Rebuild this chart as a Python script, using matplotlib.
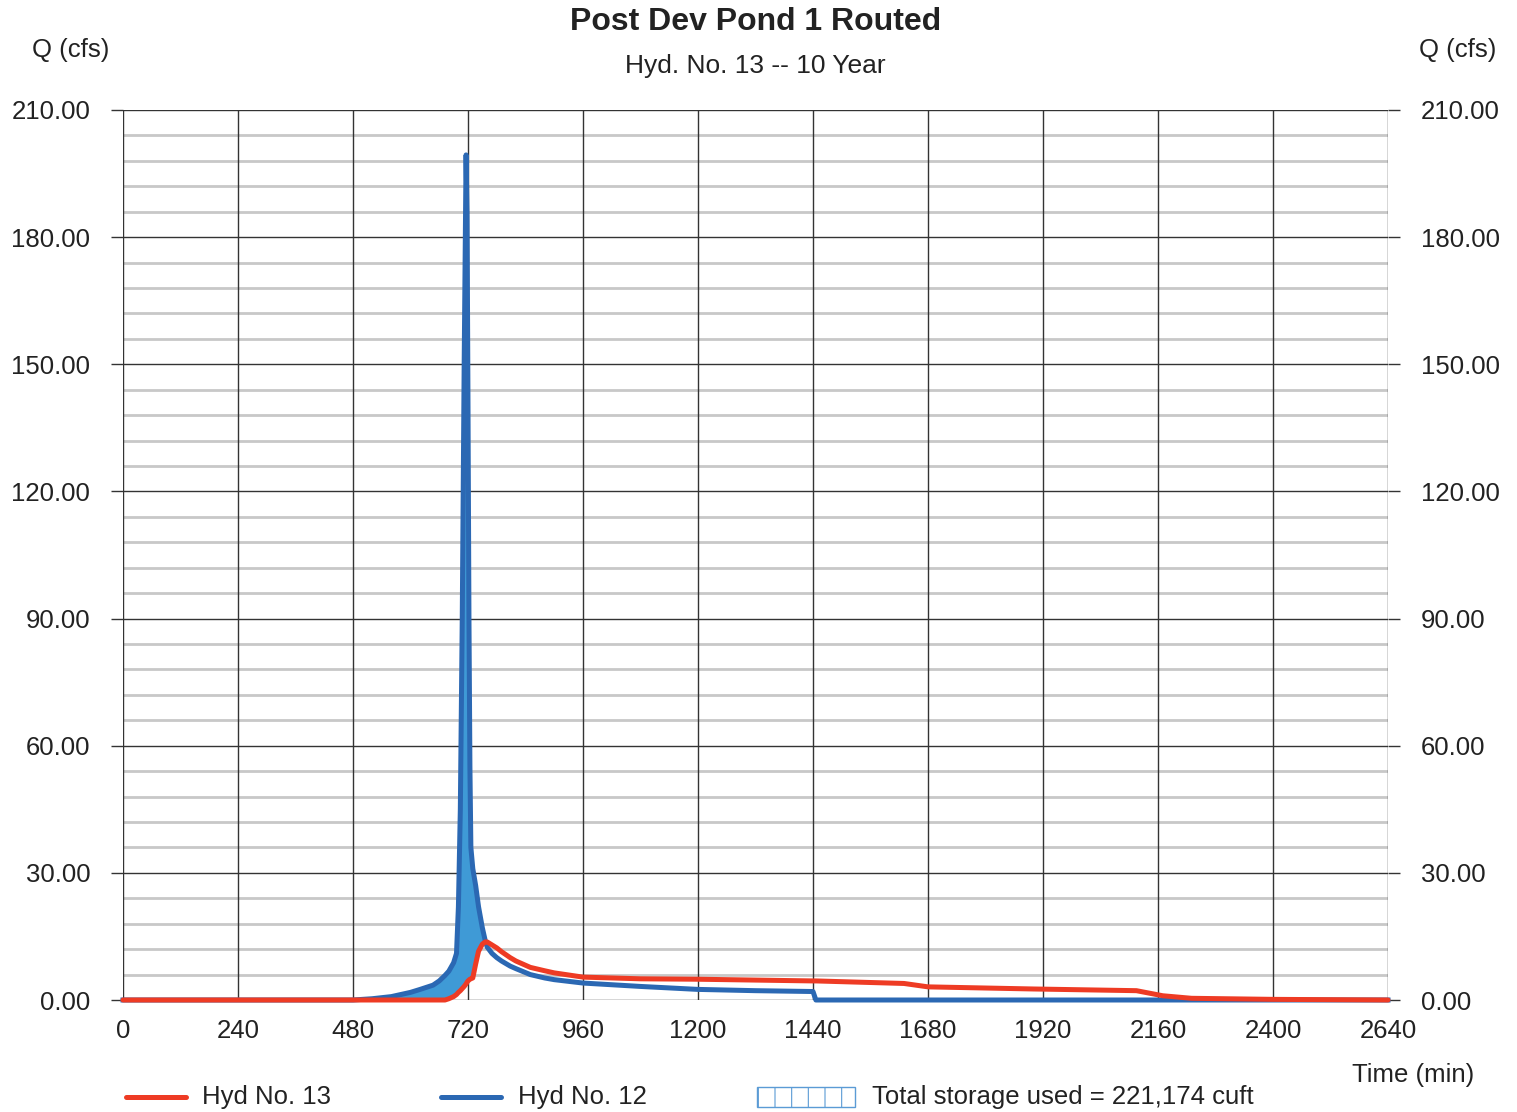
import matplotlib
matplotlib.use("Agg")
import matplotlib.pyplot as plt
from matplotlib.lines import Line2D
from matplotlib.patches import Rectangle
import numpy as np

plt.rcParams['font.family'] = ['Liberation Sans', 'DejaVu Sans']

# ---- data ----
time_min = [0, 480, 520, 560, 600, 620, 647, 660, 672, 680, 690, 696, 700, 704, 708,
            712, 716, 718, 720, 722, 724, 726, 730, 736, 742, 750, 756, 760, 770, 780,
            790, 808, 820, 850, 880, 900, 960, 1080, 1200, 1320, 1440, 1446, 1630, 1680,
            1900, 2115, 2170, 2230, 2400, 2640]
hyd12 = [0, 0, 0.3, 0.8, 1.8, 2.5, 3.5, 4.5, 5.8, 6.8, 8.8, 11, 22, 45, 90,
         150, 199.4, 185, 140, 90, 55, 36, 31, 27, 22, 17, 14, 12.5, 11, 10,
         9.2, 8.0, 7.4, 6.0, 5.2, 4.8, 4.0, 3.2, 2.5, 2.2, 2.0, 0, 0, 0,
         0, 0, 0, 0, 0, 0]
hyd13 = [0, 0, 0, 0, 0, 0, 0, 0, 0, 0.3, 0.8, 1.3, 1.8, 2.2, 2.7,
         3.2, 3.8, 4.2, 4.5, 4.7, 4.9, 5.0, 5.2, 8.5, 11.5, 13.2, 13.7, 13.7, 13.0, 12.3,
         11.4, 10.0, 9.2, 7.7, 6.9, 6.4, 5.4, 5.0, 4.9, 4.7, 4.5, 4.5, 3.9, 3.1,
         2.6, 2.2, 1.0, 0.4, 0.15, 0]
x_ticks = [0, 240, 480, 720, 960, 1200, 1440, 1680, 1920, 2160, 2400, 2640]
y_ticks = [0, 30, 60, 90, 120, 150, 180, 210]
y_minor = [v for v in range(0, 211, 6) if v % 30 != 0]
title = "Post Dev Pond 1 Routed"
subtitle = "Hyd. No. 13 -- 10 Year"
storage_label = "Total storage used = 221,174 cuft"

RED = '#ee3b24'
BLUE = '#2b68b3'
FILL = '#3f9ad6'
TXT = '#222222'

W, H = 1517, 1112
fig = plt.figure(figsize=(W / 100, H / 100), dpi=100)
ax = fig.add_axes([123 / W, 1 - 1000 / H, (1388 - 123) / W, (1000 - 110) / H])

t = np.array(time_min, dtype=float)
b = np.array(hyd12, dtype=float)
r = np.array(hyd13, dtype=float)

ax.set_xlim(0, 2640)
ax.set_ylim(0, 210)

# grid
for v in y_minor:
    ax.axhline(v, color='#c8c8c8', lw=2.0, zorder=0.5)
for v in y_ticks:
    ax.axhline(v, color='#333333', lw=1.0, zorder=0.6)
for v in x_ticks:
    ax.axvline(v, color='#333333', lw=1.0, zorder=0.6)

ax.fill_between(t, r, b, where=b > r, interpolate=True, color=FILL, lw=0, zorder=2)
ax.plot(t, b, color=BLUE, lw=3.6, zorder=3, solid_joinstyle='round', clip_on=False)
ax.plot(t, r, color=RED, lw=3.6, zorder=4, solid_joinstyle='round',
        solid_capstyle='round', clip_on=False)

for s in ax.spines.values():
    s.set_visible(False)

ax.set_xticks(x_ticks)
ax.set_xticklabels([str(v) for v in x_ticks])
ax.set_yticks(y_ticks)
ax.set_yticklabels([f"{v:.2f}" for v in y_ticks])
ax.tick_params(axis='x', length=0, pad=14, labelsize=18.5, colors=TXT)
ax.tick_params(axis='y', left=True, right=True, labelleft=True, labelright=True,
               length=8.6, width=1.0, color='#333333', pad=15, labelsize=18.5,
               labelcolor=TXT, direction='out')

fig.text(756 / W, 1 - 22 / H, title, ha='center', va='center', fontsize=23,
         fontweight='bold', color=TXT)
fig.text(755 / W, 1 - 66 / H, subtitle, ha='center', va='center', fontsize=19,
         color=TXT)
fig.text(71 / W, 1 - 50 / H, "Q (cfs)", ha='center', va='center', fontsize=18.5, color=TXT)
fig.text(1458 / W, 1 - 50 / H, "Q (cfs)", ha='center', va='center', fontsize=18.5, color=TXT)
fig.text(1413 / W, 1 - 1075 / H, "Time (min)", ha='center', va='center', fontsize=18.5,
         color=TXT)

# legend (manual)
ly = 1 - 1097 / H
fig.add_artist(Line2D([126 / W, 186 / W], [ly, ly], color=RED, lw=3.6,
                      solid_capstyle='round', transform=fig.transFigure))
fig.text(202 / W, ly, "Hyd No. 13", ha='left', va='center', fontsize=18.5, color=TXT)
fig.add_artist(Line2D([441 / W, 501 / W], [ly, ly], color=BLUE, lw=3.6,
                      solid_capstyle='round', transform=fig.transFigure))
fig.text(518 / W, ly, "Hyd No. 12", ha='left', va='center', fontsize=18.5, color=TXT)
plt.rcParams['hatch.linewidth'] = 0.8
plt.rcParams['hatch.color'] = '#5b9bd5'
fig.add_artist(Rectangle((757 / W, 1 - 1107 / H), 98 / W, 20 / H, transform=fig.transFigure,
                         facecolor='white', edgecolor='#5b9bd5', hatch='|', lw=1.0))
fig.text(872 / W, ly, storage_label, ha='left', va='center', fontsize=18.5, color=TXT)

fig.savefig('out.png', dpi=100)
